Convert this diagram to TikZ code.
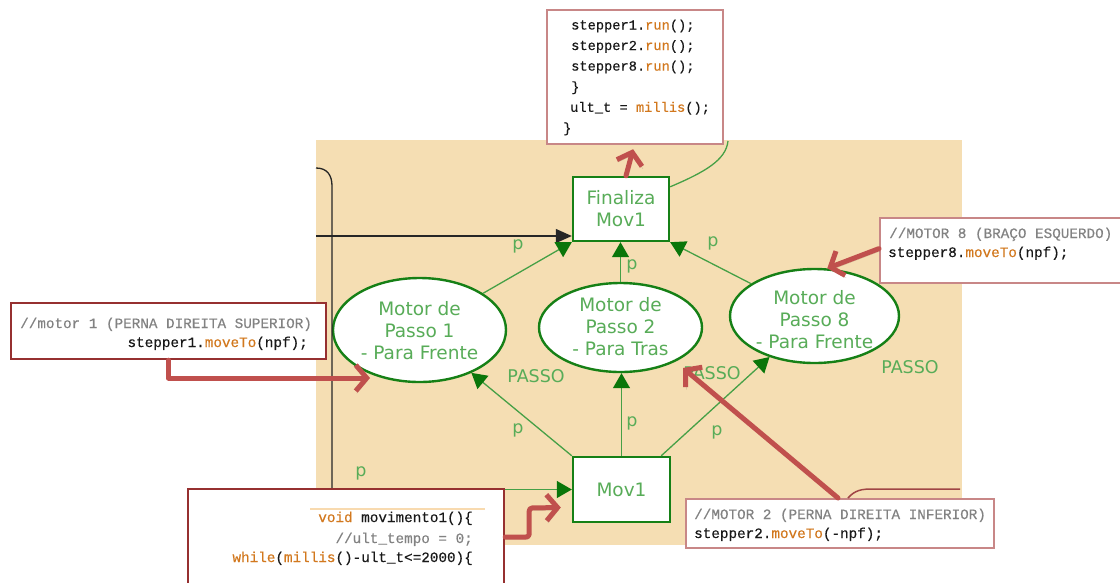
\documentclass[tikz,border=0pt]{standalone}
\usepackage{fontspec}
\setmainfont{DejaVu Sans}
\newfontfamily\codefont[FakeBold=0.35]{Liberation Mono}
\usetikzlibrary{arrows.meta,shapes.geometric,calc}

\definecolor{netbg}{RGB}{245,222,179}
\definecolor{petriborder}{RGB}{22,128,22}
\definecolor{petritext}{RGB}{88,172,88}
\definecolor{petriline}{RGB}{70,160,70}
\definecolor{petrihead}{RGB}{10,118,10}
\definecolor{callout}{RGB}{192,80,77}
\definecolor{boxdark}{RGB}{150,48,48}
\definecolor{boxlight}{RGB}{200,135,135}
\definecolor{codeink}{RGB}{25,25,25}
\definecolor{codecomment}{RGB}{130,130,130}
\definecolor{codekw}{RGB}{210,120,30}
\definecolor{codeunder}{RGB}{248,218,175}

\newcommand\kw[1]{\textcolor{codekw}{#1}}
\newcommand\petrifont{\fontsize{18.5}{22}\selectfont}
\newcommand\labelfont{\fontsize{17.5}{20}\selectfont}

\tikzset{
  placenode/.style={ellipse, draw=petriborder, line width=2.4pt, fill=white, inner sep=0pt},
  transnode/.style={rectangle, draw=petriborder, line width=2.4pt, fill=white,
    inner sep=0pt, align=center, text=petritext, font=\petrifont},
  placetext/.style={align=center, text=petritext, font=\petrifont, inner sep=0pt},
  arclabel/.style={text=petritext, font=\labelfont, inner sep=0pt},
  petriarc/.style={draw=petriline, line width=1.3pt,
    -{Triangle[length=15pt,width=17pt,color=petrihead]}},
  blackline/.style={draw=black!85, line width=1.3pt},
  codebox/.style={rectangle, line width=2.2pt, fill=white, inner sep=0pt, anchor=north west},
  codeline/.style={font=\codefont\fontsize{14.3}{17}\selectfont, text=codeink, inner sep=0pt},
  codesmall/.style={font=\codefont\fontsize{13.7}{17}\selectfont, text=codeink, inner sep=0pt},
  callarrow/.style={draw=callout, line width=5pt, line cap=round, line join=round,
    -{Straight Barb[length=11pt,width=26pt]},
    preaction={draw=black, opacity=0.15, transform canvas={shift={(1pt,-2.5pt)}}}},
}

\begin{document}
\begin{tikzpicture}[x=1pt,y=-1pt]
\useasboundingbox (0,0) rectangle (1120,582);
\fill[white] (0,0) rectangle (1120,582);

% net area
\fill[netbg] (316,140) rectangle (962,545);

% transitions and places
\node[transnode, minimum width=96pt, minimum height=64pt] (fin) at (621,209) {Finaliza\\Mov1};
\node[transnode, minimum width=97pt, minimum height=65pt] (mov) at (621.5,489.5) {Mov1};
\node[placenode, minimum width=173pt, minimum height=104pt] (m1) at (419.5,330) {};
\node[placenode, minimum width=163pt, minimum height=89pt] (m2) at (620.5,327.5) {};
\node[placenode, minimum width=169pt, minimum height=94pt] (m8) at (814.5,316) {};
\node[placetext] (m1-text) at (419.5,330.5) {Motor de\\Passo 1\\- Para Frente};
\node[placetext] (m2-text) at (620.5,327) {Motor de\\Passo 2\\- Para Tras};
\node[placetext] (m8-text) at (814.5,319.5) {Motor de\\Passo 8\\- Para Frente};

% black wires entering from the left
\coordinate (blk-top) at (316,168);
\coordinate (blk-bot) at (332,490);
\coordinate (blk-in) at (316,236);
\draw[blackline] (blk-top) .. controls (327,168) and (332,175) .. (332,186) -- (blk-bot);
\draw[blackline, -{Triangle[length=16pt,width=14pt]}] (blk-in) -- (blk-in -| fin.west);

% arcs of the net
\coordinate (grn-in) at (316,489.5);
\coordinate (grn-out) at (728,141);
\draw[petriarc] (m1.30) -- (fin.south west);
\draw[petriarc] (m2.north) -- (m2.north |- fin.south);
\draw[petriarc] (m8.153) -- (fin.south east);
\draw[petriarc] (mov.north west) -- (m1);
\draw[petriarc] (mov.north) -- (mov.north |- m2.south);
\draw[petriarc] ($(mov.north east)+(-10,0)$) -- (m8);
\draw[petriarc] (grn-in) -- (mov.west);
\draw[draw=petriline, line width=1.3pt] ($(fin.north east)+(0,11)$) .. controls (705,172) and (726,160) .. (grn-out);

% arc labels
\node[arclabel] (lp1) at (518,246) {p};
\node[arclabel] (lp2) at (632,266) {p};
\node[arclabel] (lp3) at (713,243) {p};
\node[arclabel] (lp4) at (518,430) {p};
\node[arclabel] (lp5) at (632,423) {p};
\node[arclabel] (lp6) at (717,432) {p};
\node[arclabel] (lp7) at (361,473) {p};
\node[arclabel] (ps1) at (536,376) {PASSO};
\node[arclabel] (ps2) at (712,373) {PASSO};
\node[arclabel] (ps3) at (910,367) {PASSO};

% code fragments
\node[codebox, draw=boxlight, minimum width=176pt, minimum height=134pt] (code-top) at (546,9) {};
\node[codesmall, anchor=base west] (top-l1) at (571,29.5) {stepper1.\kw{run}();};
\node[codesmall, anchor=base west] (top-l2) at (571,50) {stepper2.\kw{run}();};
\node[codesmall, anchor=base west] (top-l3) at (571,70.6) {stepper8.\kw{run}();};
\node[codesmall, anchor=base west] (top-l4) at (571,91.2) {\}};
\node[codesmall, anchor=base west] (top-l5) at (570,111.8) {ult\_t = \kw{millis}();};
\node[codesmall, anchor=base west] (top-l6) at (563,132.4) {\}};

\node[codebox, draw=boxdark, minimum width=315pt, minimum height=56pt] (code-m1) at (10,302) {};
\node[codeline, text=codecomment, anchor=base west] (m1-l1) at (20,328) {//motor 1 (PERNA DIREITA SUPERIOR)};
\node[codeline, anchor=base east] (m1-l2) at (308,347) {stepper1.\kw{moveTo}(npf);};

\node[codebox, draw=boxlight, minimum width=250pt, minimum height=65pt] (code-m8) at (879,217) {};
\node[codeline, text=codecomment, anchor=base west] (m8-l1) at (889,238) {//MOTOR 8 (BRAÇO ESQUERDO)};
\node[codeline, anchor=base west] (m8-l2) at (888,257) {stepper8.\kw{moveTo}(npf);};

\node[codebox, draw=boxdark, minimum width=316pt, minimum height=112pt] (code-mov) at (187,488) {};
\draw[draw=codeunder, line width=1.5pt] ($(code-mov.north west)+(123,21)$) -- ($(code-mov.north west)+(298,21)$);
\node[codeline, anchor=base east] (mov-l1) at (473,522) {\kw{void} movimento1()\{};
\node[codeline, text=codecomment, anchor=base east] (mov-l2) at (473,543) {//ult\_tempo = 0;};
\node[codeline, anchor=base east] (mov-l3) at (473,562) {\kw{while}(\kw{millis}()-ult\_t<=2000)\{};

\node[codebox, draw=boxlight, minimum width=308pt, minimum height=49pt] (code-m2) at (685,498) {};
\node[codeline, text=codecomment, anchor=base west] (m2-l1) at (694,519) {//MOTOR 2 (PERNA DIREITA INFERIOR)};
\node[codeline, anchor=base west] (m2-l2) at (694,538) {stepper2.\kw{moveTo}(-npf);};

% thin wire leaving the lower code fragment
\coordinate (red-out) at (960,489);
\draw[draw=boxdark!90, line width=1.5pt] ($(code-m2.north west)+(163,0)$) .. controls (855,490) and (862,489) .. (872,489) -- (red-out);

% callouts linking code to the net
\coordinate (a1) at (370,378);
\coordinate (a2) at (683,368);
\draw[callarrow] ($(fin.north)+(5,0)$) -- ($(code-top.south)+(-2,4)$);
\draw[callarrow] (code-m1.south) |- (a1);
\draw[callarrow] ($(code-m8.west)+(0,-2)$) -- (m8.75);
\draw[callarrow] ($(code-m2.north west)+(153,0)$) -- (a2);
\draw[callarrow, rounded corners=3pt] ($(code-mov.north east)+(0,49)$) -- ++(24,0) -- ++(0,-29) -- ($(mov.west)+(-11,18)$);
\end{tikzpicture}
\end{document}
